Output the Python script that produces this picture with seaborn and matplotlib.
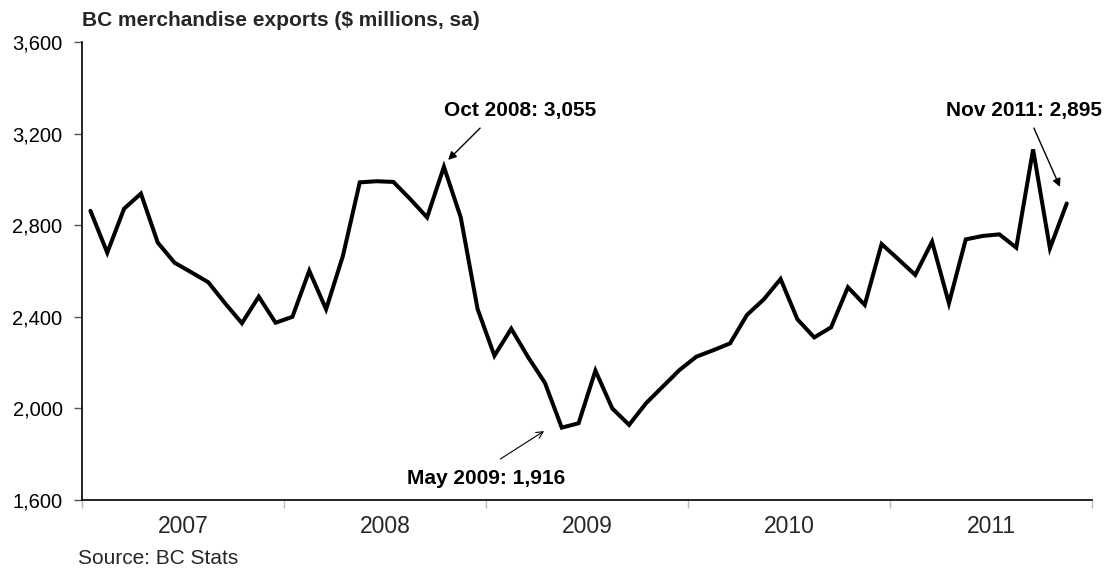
import numpy as np
import pandas as pd
import matplotlib
matplotlib.use("Agg")
import matplotlib.pyplot as plt
import seaborn as sns

# Monthly BC merchandise exports, $ millions, seasonally adjusted (Jan 2007 - Nov 2011)
years = [2007, 2008, 2009, 2010, 2011]
exports_2007 = [2863, 2680, 2872, 2938, 2724, 2636, 2594, 2551, 2459, 2372, 2488, 2374]
exports_2008 = [2400, 2601, 2433, 2666, 2987, 2992, 2989, 2914, 2834, 3055, 2834, 2434]
exports_2009 = [2230, 2348, 2224, 2112, 1916, 1935, 2165, 2000, 1928, 2022, 2095, 2168]
exports_2010 = [2226, 2254, 2284, 2408, 2476, 2565, 2389, 2310, 2354, 2529, 2452, 2718]
exports_2011 = [2651, 2583, 2728, 2459, 2738, 2753, 2760, 2702, 3131, 2699, 2895]

y_ticks = [1600, 2000, 2400, 2800, 3200, 3600]
title = "BC merchandise exports ($ millions, sa)"
source = "Source: BC Stats"
callout_labels = ["Oct 2008: 3,055", "May 2009: 1,916", "Nov 2011: 2,895"]

series = [exports_2007, exports_2008, exports_2009, exports_2010, exports_2011]
rows = []
for yr, vals in zip(years, series):
    for m, v in enumerate(vals, start=1):
        rows.append({"year": yr, "month": m, "value": v})
df = pd.DataFrame(rows)
df["t"] = (df["year"] - years[0]) * 12 + (df["month"] - 1)

sns.set_theme(style="white")
plt.rcParams["font.family"] = ["Liberation Sans", "DejaVu Sans"]

fig = plt.figure(figsize=(11.16, 5.69), dpi=100)
ax = fig.add_axes([82 / 1116, 69 / 569, (1092 - 82) / 1116, (500 - 42) / 569])

sns.lineplot(data=df, x="t", y="value", ax=ax, color="black", linewidth=2.9,
             solid_joinstyle="miter")

n_months = len(years) * 12
ax.set_xlim(-0.5, n_months - 0.5)
ax.set_ylim(y_ticks[0], y_ticks[-1])
ax.set_xlabel("")
ax.set_ylabel("")

# y axis
ax.set_yticks(y_ticks)
ax.set_yticklabels([f"{v:,}" for v in y_ticks], fontsize=14.5)
ax.tick_params(axis="y", which="major", length=6, width=1, color="#555555",
               pad=8, left=True, labelcolor="black")

# x axis: year boundaries as ticks, year names centred between them
ax.set_xticks([i * 12 - 0.5 for i in range(len(years) + 1)])
ax.set_xticklabels([])
ax.set_xticks([i * 12 + 5.5 for i in range(len(years))], minor=True)
ax.set_xticklabels([str(y) for y in years], minor=True, fontsize=16.5)
ax.tick_params(axis="x", which="major", length=6, width=1, color="#bbbbbb", bottom=True, direction="out")
ax.tick_params(axis="x", which="minor", length=0, pad=11, bottom=True)

for side in ["top", "right"]:
    ax.spines[side].set_visible(False)
for side in ["left", "bottom"]:
    ax.spines[side].set_color("black")
    ax.spines[side].set_linewidth(1.2)
ax.grid(False)

def point(yr, mon):
    row = df[(df["year"] == yr) & (df["month"] == mon)].iloc[0]
    return float(row["t"]), float(row["value"])

ann_style = dict(fontsize=15, fontweight="bold", ha="center", va="center", color="black")
filled = dict(arrowstyle="-|>", color="black", lw=1.0, mutation_scale=12, shrinkA=0, shrinkB=0)
opened = dict(arrowstyle="->", color="black", lw=0.8, mutation_scale=12, shrinkA=0, shrinkB=0)

# Oct 2008 peak
x0, y0 = point(2008, 10)
ax.text(x0 + 4.5, 3300, callout_labels[0], **ann_style)
ax.annotate("", xy=(x0 + 0.25, y0 + 30), xytext=(x0 + 2.15, 3224), arrowprops=filled)

# May 2009 trough
x0, y0 = point(2009, 5)
ax.text(x0 - 4.5, 1696, callout_labels[1], **ann_style)
ax.annotate("", xy=(x0 - 1.05, y0 - 15), xytext=(x0 - 3.65, 1779), arrowprops=opened)

# Nov 2011 latest
x0, y0 = point(2011, 11)
ax.text(x0 - 2.55, 3300, callout_labels[2], **ann_style)
ax.annotate("", xy=(x0 - 0.4, y0 + 72), xytext=(x0 - 1.95, 3224), arrowprops=filled)

fig.text(82 / 1116, 1 - 21 / 569, title, fontsize=15, fontweight="bold",
         ha="left", va="center")
fig.text(78 / 1116, 1 - 559 / 569, source, fontsize=15, ha="left", va="center")

fig.savefig("out.png", dpi=100)
